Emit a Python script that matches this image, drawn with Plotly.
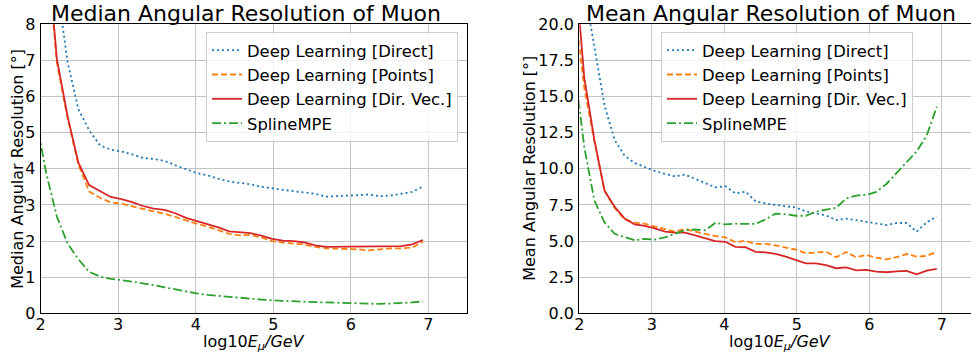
import plotly.graph_objects as go

W, H = 971, 356

# log10(E_mu / GeV) bin centres (first one lies just left of the visible range)
log_e = [1.931, 2.069, 2.208, 2.347, 2.486, 2.625, 2.764, 2.903, 3.042, 3.181,
         3.319, 3.458, 3.597, 3.736, 3.875, 4.014, 4.153, 4.292, 4.431, 4.569,
         4.708, 4.847, 4.986, 5.125, 5.264, 5.403, 5.542, 5.681, 5.819, 5.958,
         6.097, 6.236, 6.375, 6.514, 6.653, 6.792, 6.931]

series_names = ["Deep Learning [Direct]", "Deep Learning [Points]",
                "Deep Learning [Dir. Vec.]", "SplineMPE"]

# median angular resolution [deg]
median_direct = [14.0, 11.4, 9.13, 6.95, 5.65, 5.07, 4.65, 4.53, 4.48, 4.40,
                 4.30, 4.27, 4.22, 4.10, 4.00, 3.88, 3.82, 3.72, 3.65, 3.62,
                 3.57, 3.50, 3.45, 3.42, 3.38, 3.35, 3.31, 3.23, 3.25, 3.26,
                 3.27, 3.29, 3.24, 3.26, 3.30, 3.36, 3.51]
median_points = [13.7, 10.3, 6.95, 5.40, 4.12, 3.37, 3.20, 3.07, 3.03, 2.96,
                 2.88, 2.82, 2.76, 2.66, 2.56, 2.48, 2.40, 2.31, 2.20, 2.16,
                 2.17, 2.10, 2.00, 1.96, 1.93, 1.90, 1.84, 1.80, 1.79, 1.79,
                 1.77, 1.74, 1.78, 1.80, 1.80, 1.82, 1.98]
median_dirvec = [14.0, 10.5, 7.05, 5.45, 4.17, 3.55, 3.38, 3.22, 3.16, 3.08,
                 2.97, 2.90, 2.86, 2.77, 2.64, 2.56, 2.48, 2.38, 2.27, 2.25,
                 2.22, 2.15, 2.06, 2.01, 2.00, 1.96, 1.88, 1.84, 1.84, 1.86,
                 1.85, 1.84, 1.84, 1.85, 1.86, 1.91, 2.03]
median_spline = [5.5, 3.9, 2.68, 1.93, 1.50, 1.15, 1.02, 0.95, 0.92, 0.88,
                 0.82, 0.78, 0.72, 0.66, 0.60, 0.55, 0.51, 0.48, 0.45, 0.42,
                 0.40, 0.38, 0.36, 0.34, 0.33, 0.32, 0.31, 0.30, 0.29, 0.28,
                 0.28, 0.27, 0.26, 0.27, 0.28, 0.30, 0.33]

# mean angular resolution [deg]
mean_direct = [26.5, 22.5, 18.3, 14.4, 12.0, 10.9, 10.4, 10.1, 9.85, 9.65,
               9.47, 9.6, 9.3, 9.0, 8.72, 8.8, 8.3, 8.42, 7.75, 7.6,
               7.52, 7.42, 7.32, 7.05, 6.9, 6.78, 6.45, 6.55, 6.45, 6.32,
               6.2, 6.1, 6.25, 6.25, 5.65, 6.3, 6.7]
mean_points = [21.4, 15.6, 11.9, 8.5, 7.3, 6.5, 6.28, 6.2, 6.0, 5.81,
               5.65, 5.83, 5.65, 5.49, 5.35, 5.26, 4.92, 5.02, 4.8, 4.8,
               4.7, 4.55, 4.4, 4.15, 4.22, 4.26, 3.88, 4.24, 3.88, 4.04,
               3.85, 3.73, 3.88, 4.10, 3.92, 3.97, 4.26]
mean_dirvec = [24.6, 16.3, 12.0, 8.5, 7.38, 6.55, 6.15, 6.05, 5.88, 5.65,
               5.58, 5.58, 5.40, 5.2, 5.0, 4.95, 4.6, 4.57, 4.25, 4.22,
               4.12, 3.92, 3.7, 3.46, 3.46, 3.33, 3.12, 3.18, 2.97, 3.0,
               2.88, 2.84, 2.9, 2.93, 2.70, 2.95, 3.07]
mean_spline = [17.1, 11.5, 7.8, 6.3, 5.5, 5.3, 5.05, 5.15, 5.1, 5.25,
               5.5, 5.75, 5.8, 5.75, 6.25, 6.15, 6.2, 6.18, 6.18, 6.5,
               6.9, 6.85, 6.75, 6.75, 7.03, 7.18, 7.3, 7.95, 8.15, 8.2,
               8.4, 8.95, 9.7, 10.5, 11.2, 12.3, 14.3]

x_ticks = [2, 3, 4, 5, 6, 7]
median_ticks = [0, 1, 2, 3, 4, 5, 6, 7, 8]
mean_ticks = [0.0, 2.5, 5.0, 7.5, 10.0, 12.5, 15.0, 17.5, 20.0]

styles = [
    dict(color="#1f77b4", dash="2px,3px"),
    dict(color="#ff7f0e", dash="6px,3px"),
    dict(color="#d62728", dash="solid"),
    dict(color="#2ca02c", dash="9px,3px,2px,3px"),
]

FONT = "DejaVu Sans"


def px_x(p):
    return p / W


def px_y(p):
    return 1 - p / H


fig = go.Figure()

panels = [
    ("x", "y", "legend", [median_direct, median_points, median_dirvec, median_spline]),
    ("x2", "y2", "legend2", [mean_direct, mean_points, mean_dirvec, mean_spline]),
]
for xa, ya, leg, data in panels:
    for name, vals, st in zip(series_names, data, styles):
        fig.add_trace(go.Scatter(
            x=log_e, y=vals, mode="lines", name=name,
            line=dict(color=st["color"], dash=st["dash"], width=1.8),
            xaxis=xa, yaxis=ya, legend=leg,
            hoverinfo="skip",
        ))

y_dom = [px_y(313.3), px_y(24.3)]
axis_common = dict(
    showgrid=True, gridcolor="#c4c4c4", gridwidth=1.3,
    showline=True, linecolor="black", linewidth=1.3, mirror=True,
    ticks="", zeroline=False, automargin=False,
    tickfont=dict(family=FONT, size=16, color="black"),
)

fig.update_layout(
    width=W, height=H,
    margin=dict(l=0, r=0, t=0, b=0, autoexpand=False),
    paper_bgcolor="white", plot_bgcolor="white",
    showlegend=True,
    xaxis=dict(domain=[px_x(40.7), px_x(467)], range=[2, 7.5], tickvals=x_ticks,
               anchor="y", ticklabelstandoff=-4, **axis_common),
    yaxis=dict(domain=y_dom, range=[0, 8], tickvals=median_ticks, anchor="x",
               ticklabelstandoff=1, **axis_common),
    xaxis2=dict(domain=[px_x(579.3), px_x(970.5)], range=[2, 2 + (970.5 - 579.3) / 72.5],
                tickvals=x_ticks, anchor="y2", ticklabelstandoff=-4, **axis_common),
    yaxis2=dict(domain=y_dom, range=[0, 20], tickvals=mean_ticks, tickformat=".1f",
                anchor="x2", ticklabelstandoff=1, **axis_common),
)

legend_common = dict(
    bgcolor="rgba(255,255,255,0.8)", bordercolor="#cccccc", borderwidth=1,
    font=dict(family=FONT, size=16.4, color="black"),
    xanchor="right", yanchor="top", tracegroupgap=0,
)
fig.update_layout(
    legend=dict(x=px_x(458), y=px_y(32), **legend_common),
    legend2=dict(x=px_x(913), y=px_y(32), **legend_common),
)

xlabel = "log10<i>E</i><sub><i>μ</i></sub><i>/GeV</i>"
annotations = [
    dict(text="Median Angular Resolution of Muon", x=px_x(245.5), y=px_y(13),
         font=dict(family=FONT, size=22, color="black")),
    dict(text="Mean Angular Resolution of Muon", x=px_x(771), y=px_y(13),
         font=dict(family=FONT, size=22, color="black")),
    dict(text=xlabel, x=px_x(254), y=px_y(342), font=dict(family=FONT, size=16, color="black")),
    dict(text=xlabel, x=px_x(780), y=px_y(342), font=dict(family=FONT, size=16, color="black")),
    dict(text="Median Angular Resolution [°]", x=px_x(18), y=px_y(168.8), textangle=-90,
         font=dict(family=FONT, size=16, color="black")),
    dict(text="Mean Angular Resolution [°]", x=px_x(530), y=px_y(168.8), textangle=-90,
         font=dict(family=FONT, size=16, color="black")),
]
for a in annotations:
    a.update(xref="paper", yref="paper", showarrow=False, xanchor="center", yanchor="middle")
fig.update_layout(annotations=annotations)

fig.write_html("out.html")
